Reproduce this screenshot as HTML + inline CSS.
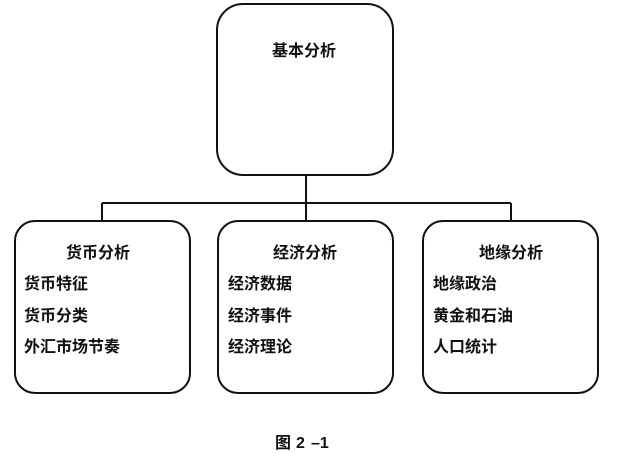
<!DOCTYPE html>
<html>
<head>
<meta charset="utf-8">
<style>
  html, body { margin:0; padding:0; background:#fff; }
  svg { display:block; }
  text { font-family: "Liberation Sans", "Noto Sans CJK SC", sans-serif; font-weight:700; fill:#111; }
</style>
</head>
<body>
<svg width="618" height="456" viewBox="0 0 618 456" xmlns="http://www.w3.org/2000/svg">
  <g fill="none" stroke="#111" stroke-width="2">
    <rect x="217" y="4" width="176" height="171" rx="26" ry="26"/>
    <rect x="15" y="221" width="175" height="172" rx="20" ry="20"/>
    <rect x="218" y="221" width="175" height="172" rx="20" ry="20"/>
    <rect x="423" y="221" width="175" height="172" rx="20" ry="20"/>
    <line x1="306" y1="175" x2="306" y2="221"/>
    <line x1="102" y1="203" x2="511" y2="203"/>
    <line x1="102" y1="203" x2="102" y2="221"/>
    <line x1="511" y1="203" x2="511" y2="221"/>
  </g>
  <g font-size="16">
    <text x="304" y="56" text-anchor="middle">基本分析</text>

    <text x="98" y="258" text-anchor="middle">货币分析</text>
    <text x="24" y="289">货币特征</text>
    <text x="24" y="321">货币分类</text>
    <text x="24" y="352">外汇市场节奏</text>

    <text x="305" y="258" text-anchor="middle">经济分析</text>
    <text x="228" y="289">经济数据</text>
    <text x="228" y="321">经济事件</text>
    <text x="228" y="352">经济理论</text>

    <text x="511" y="258" text-anchor="middle">地缘分析</text>
    <text x="433" y="289">地缘政治</text>
    <text x="433" y="321">黄金和石油</text>
    <text x="433" y="352">人口统计</text>
  </g>
  <text y="448" font-size="16"><tspan x="275">图</tspan><tspan x="296">2</tspan><tspan x="311">–1</tspan></text>
</svg>
</body>
</html>
